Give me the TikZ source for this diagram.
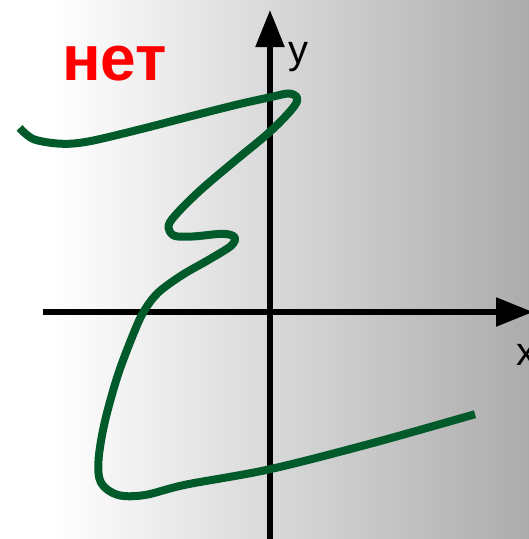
\documentclass[tikz,border=0pt]{standalone}
\usepackage{fontspec}
\setmainfont{Liberation Sans}
\usetikzlibrary{arrows.meta}
\definecolor{curvegreen}{RGB}{0,90,42}
\definecolor{bggray}{RGB}{172,172,172}
\pgfdeclarehorizontalshading{bgshade}{100bp}{color(0bp)=(white); color(25bp)=(white); color(30bp)=(white); color(75bp)=(bggray); color(100bp)=(bggray)}
\tikzset{
  axis/.style={line width=5.5pt, -{Triangle[length=37pt,width=28pt]}},
  curve/.style={line width=8pt, color=curvegreen, line cap=butt, line join=round},
  axislabel/.style={inner sep=0pt, anchor=base west, font=\fontsize{40}{40}\selectfont}
}
\begin{document}
\begin{tikzpicture}[x=1pt,y=-1pt]
\useasboundingbox (0,0) rectangle (529,539);
\shade[shading=bgshade] (0,0) rectangle (529,539);
% axes
\coordinate (ybot) at (270,545);
\coordinate (ytop) at (270,10);
\coordinate (xleft) at (43,312);
\coordinate (xright) at (533,312);
\draw[axis] (xleft) -- (xright);
\draw[axis] (ybot) -- (ytop);
\node[axislabel] (ylab) at (288,63) {y};
\node[axislabel] (xlab) at (516,365) {x};
\node[inner sep=0pt, anchor=base west, text=red, font=\fontsize{64}{64}\selectfont\bfseries] (no) at (62,80) {нет};
% the curve
\draw[curve] plot[smooth, tension=0.55] coordinates {
  (19.6,127.9) (33.7,139.2) (60.7,143.7) (87.7,141.6) (135,130.6)
  (185.6,117.6) (236.2,104.8) (269.9,97.3) (288.5,93.5) (296.9,97.3)
  (295.2,104.8) (283.4,118.6) (266.5,134.8) (236.2,159.8) (202.4,188.4)
  (178.8,211.4) (168.7,225.2) (173.7,235.5) (192.3,236.5) (222.7,233.8)
  (234.5,237.2) (231.1,245.8) (209.2,259.5) (182.2,275) (158.6,292.2)
  (145,309.4) (135,330) (118,374.7) (104.6,422.8) (98.5,460.6)
  (101.2,483) (118,495) (145,495) (185.6,484.7) (269.9,469.2)
  (371,443.5) (475,414.2)};
\end{tikzpicture}
\end{document}
